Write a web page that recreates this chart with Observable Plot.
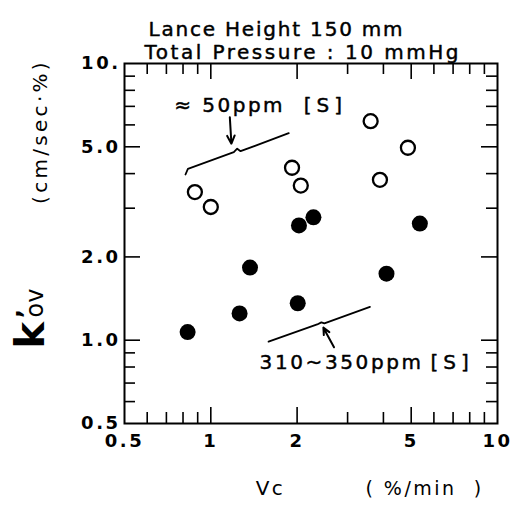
<!DOCTYPE html>
<html><head><meta charset="utf-8">
<script src="https://cdn.jsdelivr.net/npm/d3@7"></script>
<script src="https://cdn.jsdelivr.net/npm/@observablehq/plot@0.6"></script>
<style>
html,body{margin:0;padding:0;background:#fff;}
#chart svg{display:block;}
#chart svg text{letter-spacing:2.5px;white-space:pre;}
</style></head><body><div id="chart"></div>
<script>
// ≈50ppm [S] (open circles)
const openVc = [0.88, 1.0, 1.92, 2.06, 3.61, 3.89, 4.87];
const openK = [3.43, 3.03, 4.20, 3.62, 6.19, 3.80, 4.96];
// 310~350ppm [S] (filled circles)
const solidVc = [2.03, 2.28, 5.36, 1.37, 4.10, 2.01, 1.26, 0.83];
const solidK = [2.60, 2.78, 2.64, 1.83, 1.74, 1.36, 1.25, 1.07];

// tick values and labels
const xTickValues = [0.5, 1, 2, 5, 10];
const xTickLabels = ["0.5", "1", "2", "5", "10"];
const yTickValues = [0.5, 1, 2, 5, 10];
const yTickLabels = ["0.5", "1.0", "2.0", "5.0", "10."];
const majorTicks = [1, 2, 5];
const minorTicks = [0.6, 0.7, 0.8, 0.9, 3, 4, 6, 7, 8, 9];

// annotation guide lines (in data units)
const upperBraceVc = [0.816, 0.832, 1.203, 1.236, 1.27, 1.87];
const upperBraceK = [3.97, 4.16, 4.78, 4.92, 4.82, 5.60];
const lowerBraceVc = [1.59, 2.35, 2.43, 2.49, 3.59];
const lowerBraceK = [0.988, 1.14, 1.16, 1.15, 1.32];
const arrowFromVc = [1.165, 2.69];
const arrowFromK = [6.40, 0.943];
const arrowToVc = [1.18, 2.47];
const arrowToK = [5.13, 1.11];
const annText = ["≈ 50ppm", "[S]", "310~350ppm", "[S]"];
const annVc = [0.745, 2.11, 1.48, 5.84];
const annK = [7.05, 7.05, 0.831, 0.831];

const titleLines = ["Lance Height 150 mm", "Total Pressure : 10 mmHg"];

const openPts = openVc.map((v, i) => ({vc: v, k: openK[i]}));
const solidPts = solidVc.map((v, i) => ({vc: v, k: solidK[i]}));
const upperBrace = upperBraceVc.map((v, i) => ({vc: v, k: upperBraceK[i]}));
const lowerBrace = lowerBraceVc.map((v, i) => ({vc: v, k: lowerBraceK[i]}));
const arrowData = arrowFromVc.map((v, i) => ({x1: v, y1: arrowFromK[i], x2: arrowToVc[i], y2: arrowToK[i]}));
const anns = annText.map((t, i) => ({t, vc: annVc[i], k: annK[i]}));

const W = 523, H = 508, ML = 124, MR = 26, MT = 63, MB = 85;
const FW = W - ML - MR, FH = H - MT - MB;
const MAJ = 16, MIN = 11;
const LO = 0.5, HI = 10, SPAN = HI / LO;

// inward tick segments expressed through the log scales
const vTicks = [], hTicks = [];
for (const [ticks, size] of [[majorTicks, MAJ], [minorTicks, MIN]]) {
  const fy = Math.pow(SPAN, size / FH), fx = Math.pow(SPAN, size / FW);
  for (const t of ticks) {
    vTicks.push({x: t, y1: LO, y2: LO * fy}, {x: t, y1: HI, y2: HI / fy});
    hTicks.push({y: t, x1: LO, x2: LO * fx}, {y: t, x1: HI, x2: HI / fx});
  }
}

const heavy = {fill: "#000", stroke: "#000", strokeWidth: 0.45};

const chart = Plot.plot({
  width: W,
  height: H,
  marginLeft: ML,
  marginRight: MR,
  marginTop: MT,
  marginBottom: MB,
  style: {fontFamily: "DejaVu Sans", fontSize: "18px", background: "#fff", color: "#000"},
  x: {type: "log", domain: [LO, HI], axis: null},
  y: {type: "log", domain: [LO, HI], axis: null},
  marks: [
    Plot.ruleX(vTicks, {x: "x", y1: "y1", y2: "y2", stroke: "#000", strokeWidth: 1.6}),
    Plot.ruleY(hTicks, {y: "y", x1: "x1", x2: "x2", stroke: "#000", strokeWidth: 1.6}),
    Plot.frame({strokeWidth: 2}),
    Plot.text(xTickValues, {x: d => d, text: d => xTickLabels[xTickValues.indexOf(d)], frameAnchor: "bottom", dy: 23, fontWeight: "bold", fontSize: 18}),
    Plot.text(yTickValues, {y: d => d, text: d => yTickLabels[yTickValues.indexOf(d)], frameAnchor: "left", dx: -4, textAnchor: "end", fontWeight: "bold", fontSize: 18}),
    Plot.line(upperBrace, {x: "vc", y: "k", strokeWidth: 1.8}),
    Plot.line(lowerBrace, {x: "vc", y: "k", strokeWidth: 1.8}),
    Plot.arrow(arrowData, {x1: "x1", y1: "y1", x2: "x2", y2: "y2", strokeWidth: 2, headLength: 9, headAngle: 50}),
    Plot.text(anns, {x: "vc", y: "k", text: "t", textAnchor: "start", fontSize: 20, ...heavy}),
    Plot.dot(openPts, {x: "vc", y: "k", r: 7, stroke: "#000", strokeWidth: 2.3, fill: "#fff"}),
    Plot.dot(solidPts, {x: "vc", y: "k", r: 8, fill: "#000", stroke: "none"}),
    // title lines
    Plot.text([titleLines[0]], {frameAnchor: "top-left", dx: 24, dy: -42, textAnchor: "start", fontSize: 20, ...heavy}),
    Plot.text([titleLines[1]], {frameAnchor: "top-left", dx: 20, dy: -19, textAnchor: "start", fontSize: 20, ...heavy}),
    // x axis label
    Plot.text(["Vc"], {frameAnchor: "bottom-left", dx: 146, dy: 71, textAnchor: "middle", fontSize: 20}),
    Plot.text(["( %/min  )"], {frameAnchor: "bottom-left", dx: 300, dy: 71, textAnchor: "middle", fontSize: 19}),
    // y axis label
    Plot.text(["(cm/sec·%)"], {frameAnchor: "top-left", dx: -92, dy: 68, rotate: -90, textAnchor: "middle", fontSize: 20}),
    Plot.text(["k"], {frameAnchor: "top-left", dx: -81, dy: 285, rotate: -90, textAnchor: "start", lineAnchor: "bottom", fontSize: 40, fontWeight: "bold"}),
    Plot.text(["ov"], {frameAnchor: "top-left", dx: -82, dy: 254, rotate: -90, textAnchor: "start", lineAnchor: "bottom", fontSize: 24}),
    Plot.text(["’"], {frameAnchor: "top-left", dx: -91, dy: 249, rotate: -90, textAnchor: "middle", lineAnchor: "bottom", fontSize: 24, fontWeight: "bold"})
  ]
});
const spacing = {"(cm/sec·%)": "3.3px", "[S]": "5px", "310~350ppm": "2.6px", "≈ 50ppm": "2.5px", "Lance Height 150 mm": "1.8px", "k": "0px", "ov": "0px"};
d3.select(chart).selectAll("text").each(function () {
  const s = spacing[this.textContent];
  if (s) this.style.letterSpacing = s;
});
document.getElementById("chart").appendChild(chart);
</script>
</body></html>
